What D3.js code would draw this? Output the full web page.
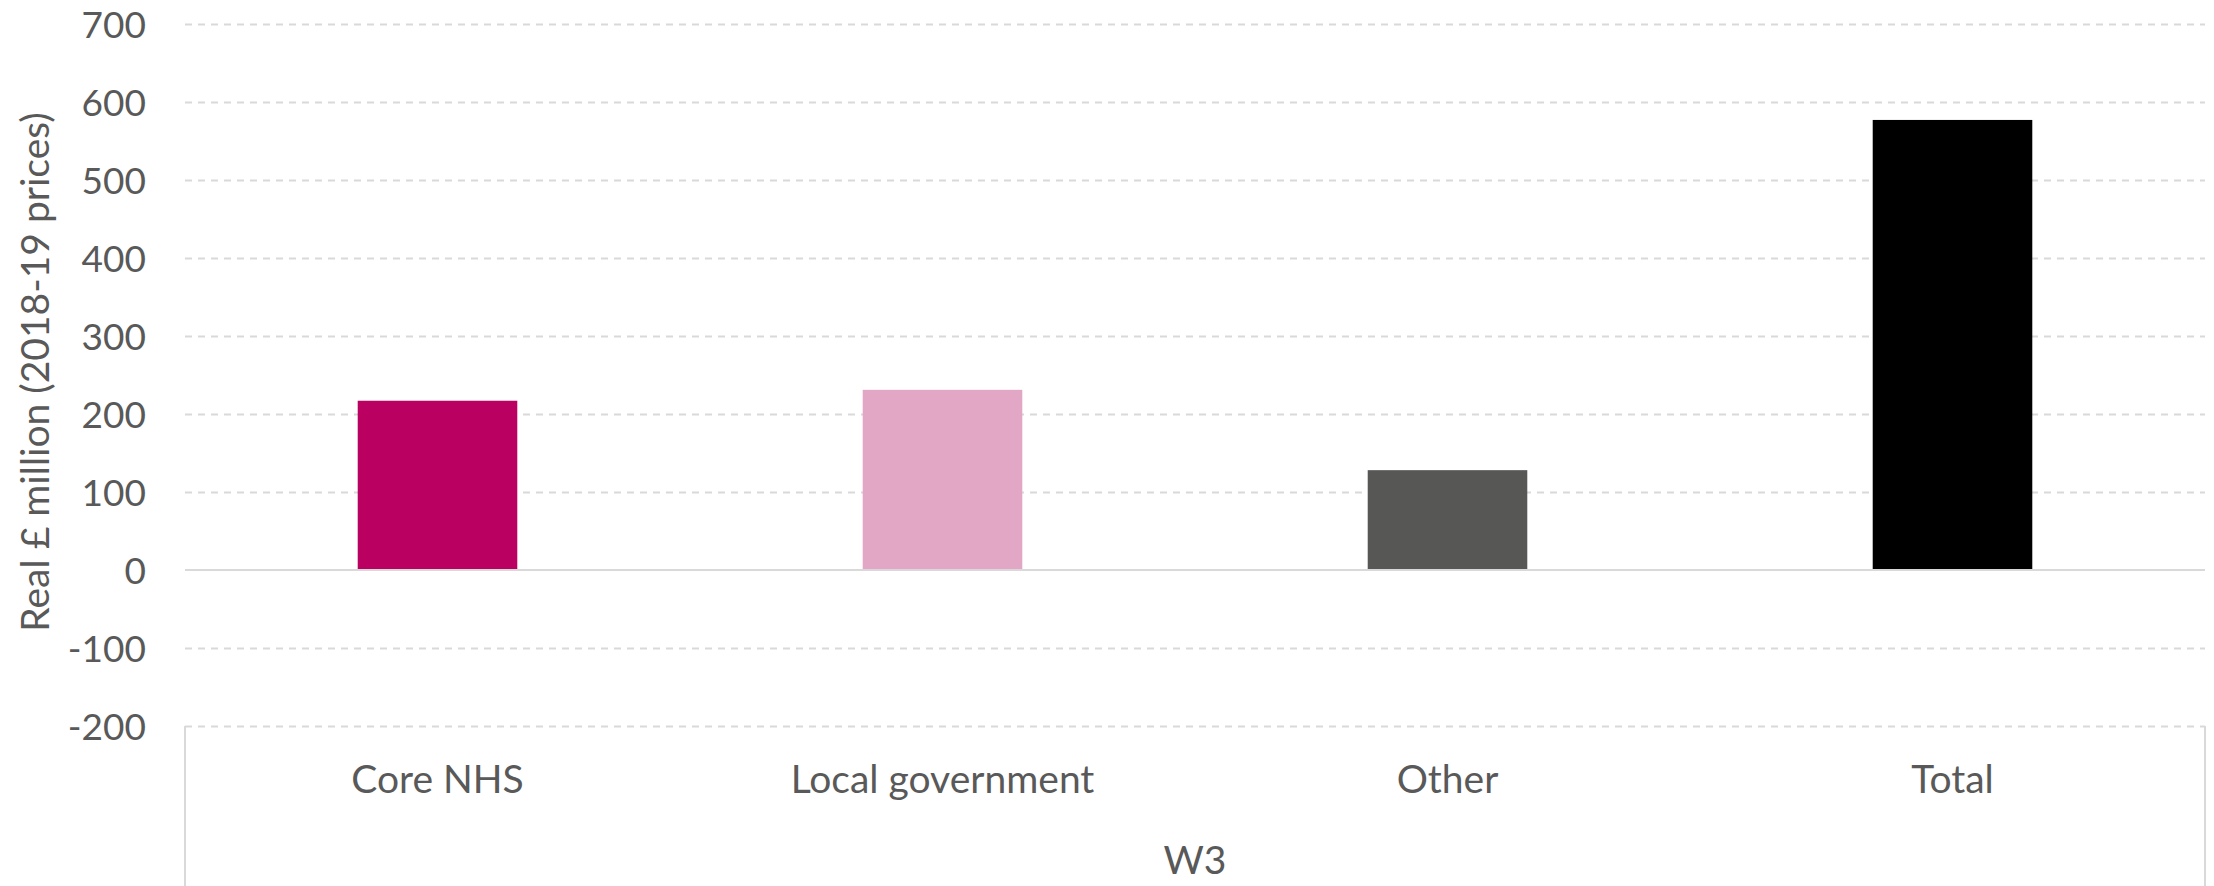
<!DOCTYPE html>
<html>
<head>
<meta charset="utf-8">
<script src="https://cdn.jsdelivr.net/npm/d3@7"></script>
<style>
  html, body { margin: 0; padding: 0; background: #fff; }
  svg { display: block; }
  text { font-family: Lato, "Open Sans", sans-serif; fill: #595959; }
</style>
</head>
<body>
<svg id="chart" width="2214" height="886"></svg>
<script>
const categories = ["Core NHS", "Local government", "Other", "Total"];
const values = [217, 231, 128, 577];
const colors = ["#BA0060", "#E1A7C4", "#575756", "#000000"];
const yTicks = [-200, -100, 0, 100, 200, 300, 400, 500, 600, 700];
const groupLabel = "W3";
const yTitle = "Real £ million (2018-19 prices)";

(function () {
const W = 2214, H = 886;
const mLeft = 185, mRight = 2205, mTop = 24, mBottom = 726;

const svg = d3.select("#chart");

const y = d3.scaleLinear().domain([-200, 700]).range([mBottom, mTop]);
const x = d3.scaleBand().domain(categories).range([mLeft, mRight])
  .paddingInner(0.684).paddingOuter(0.342);

// gridlines
const grid = svg.append("g").attr("transform", `translate(${mLeft},0)`)
  .call(d3.axisLeft(y).tickValues(yTicks.filter(d => d !== 0)).tickSize(-(mRight - mLeft)).tickFormat(""));
grid.select(".domain").remove();
grid.selectAll(".tick line")
  .attr("stroke", "#d9d9d9").attr("stroke-width", 2).attr("stroke-dasharray", "7,6");

// y tick labels
const yAxis = svg.append("g").attr("transform", `translate(${mLeft - 39},0)`)
  .call(d3.axisLeft(y).tickValues(yTicks).tickSize(0).tickPadding(0).tickFormat(d => String(d)));
yAxis.select(".domain").remove();
yAxis.selectAll("text")
  .style("font-family", "Lato, 'Open Sans', sans-serif")
  .style("font-size", "37px").attr("fill", "#595959").attr("dy", "0.36em");

// bars
svg.append("g").selectAll("rect").data(values).join("rect")
  .attr("x", (d, i) => x(categories[i]))
  .attr("width", x.bandwidth())
  .attr("y", d => y(Math.max(0, d)))
  .attr("height", d => Math.abs(y(d) - y(0)))
  .attr("fill", (d, i) => colors[i]);

// zero line
svg.append("line")
  .attr("x1", mLeft).attr("x2", mRight)
  .attr("y1", y(0)).attr("y2", y(0))
  .attr("stroke", "#d9d9d9").attr("stroke-width", 2);

// group separators in category area
[mLeft, mRight].forEach(xx => {
  svg.append("line")
    .attr("x1", xx).attr("x2", xx)
    .attr("y1", mBottom).attr("y2", H)
    .attr("stroke", "#d9d9d9").attr("stroke-width", 2);
});

// category labels
svg.append("g").selectAll("text").data(categories).join("text")
  .attr("x", d => x(d) + x.bandwidth() / 2)
  .attr("y", 793)
  .attr("text-anchor", "middle")
  .style("font-size", "39px")
  .text(d => d);

// group label
svg.append("text")
  .attr("x", (mLeft + mRight) / 2)
  .attr("y", 874)
  .attr("text-anchor", "middle")
  .style("font-size", "39px")
  .text(groupLabel);

// y title
svg.append("text")
  .attr("transform", `translate(35, 372) rotate(-90)`)
  .attr("text-anchor", "middle")
  .attr("dy", "0.36em")
  .style("font-size", "39px")
  .text(yTitle);
})();
</script>
</body>
</html>
